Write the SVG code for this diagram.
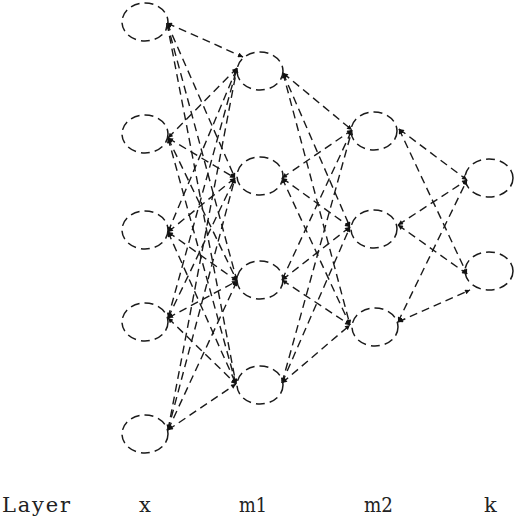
<svg xmlns="http://www.w3.org/2000/svg" width="520" height="518" viewBox="0 0 520 518">
<style>
.n{fill:none;stroke:#1a1a1a;stroke-width:1.5;stroke-dasharray:9 5}
.e{fill:none;stroke:#1a1a1a;stroke-width:1.4;stroke-dasharray:8 5;marker-start:url(#ah);marker-end:url(#ah)}
.t{font-family:"DejaVu Serif","Liberation Serif",serif;font-size:21px;fill:#222}
</style>
<defs>
<marker id="ah" viewBox="0 0 10 10" refX="10" refY="5" markerWidth="6" markerHeight="5" markerUnits="userSpaceOnUse" orient="auto-start-reverse">
<path d="M0,0 L10,5 L0,10 z" fill="#111"/>
</marker>
</defs>
<rect width="520" height="518" fill="#fff"/>
<g id="connectors">
<line class="e" x1="167" y1="23" x2="243" y2="57"/>
<line class="e" x1="167" y1="23" x2="235" y2="178"/>
<line class="e" x1="167" y1="23" x2="237" y2="281"/>
<line class="e" x1="167" y1="23" x2="236" y2="384"/>
<line class="e" x1="168" y1="138" x2="237" y2="68"/>
<line class="e" x1="168" y1="138" x2="235" y2="178"/>
<line class="e" x1="168" y1="138" x2="237" y2="281"/>
<line class="e" x1="168" y1="138" x2="236" y2="384"/>
<line class="e" x1="168" y1="232" x2="237" y2="68"/>
<line class="e" x1="168" y1="232" x2="235" y2="178"/>
<line class="e" x1="168" y1="232" x2="237" y2="281"/>
<line class="e" x1="168" y1="232" x2="236" y2="384"/>
<line class="e" x1="168" y1="318" x2="237" y2="68"/>
<line class="e" x1="168" y1="318" x2="235" y2="178"/>
<line class="e" x1="168" y1="318" x2="237" y2="281"/>
<line class="e" x1="168" y1="318" x2="236" y2="384"/>
<line class="e" x1="168" y1="430" x2="237" y2="68"/>
<line class="e" x1="168" y1="430" x2="235" y2="178"/>
<line class="e" x1="168" y1="430" x2="237" y2="281"/>
<line class="e" x1="168" y1="430" x2="236" y2="384"/>
<line class="e" x1="283" y1="73" x2="352" y2="130"/>
<line class="e" x1="283" y1="73" x2="350" y2="227"/>
<line class="e" x1="283" y1="73" x2="350" y2="325"/>
<line class="e" x1="282" y1="178" x2="352" y2="130"/>
<line class="e" x1="282" y1="178" x2="350" y2="227"/>
<line class="e" x1="282" y1="178" x2="350" y2="325"/>
<line class="e" x1="282" y1="280" x2="352" y2="130"/>
<line class="e" x1="282" y1="280" x2="350" y2="227"/>
<line class="e" x1="282" y1="280" x2="350" y2="325"/>
<line class="e" x1="282" y1="383" x2="352" y2="130"/>
<line class="e" x1="282" y1="383" x2="350" y2="227"/>
<line class="e" x1="282" y1="383" x2="350" y2="325"/>
<line class="e" x1="399" y1="129" x2="467" y2="180"/>
<line class="e" x1="399" y1="129" x2="467" y2="274"/>
<line class="e" x1="398" y1="225" x2="467" y2="180"/>
<line class="e" x1="398" y1="225" x2="467" y2="274"/>
<line class="e" x1="398" y1="322" x2="467" y2="180"/>
<line class="e" x1="398" y1="322" x2="470" y2="290"/>
</g>
<g id="x1"><ellipse class="n" cx="145" cy="22" rx="23" ry="19"/></g>
<g id="x2"><ellipse class="n" cx="145" cy="134" rx="23" ry="19"/></g>
<g id="x3"><ellipse class="n" cx="145" cy="230" rx="23" ry="19"/></g>
<g id="x4"><ellipse class="n" cx="145" cy="322" rx="23" ry="19"/></g>
<g id="x5"><ellipse class="n" cx="145" cy="434" rx="23" ry="19"/></g>
<g id="m1_1"><ellipse class="n" cx="260" cy="71" rx="23" ry="19"/></g>
<g id="m1_2"><ellipse class="n" cx="260" cy="176" rx="23" ry="19"/></g>
<g id="m1_3"><ellipse class="n" cx="260" cy="280" rx="23" ry="19"/></g>
<g id="m1_4"><ellipse class="n" cx="260" cy="385" rx="23" ry="19"/></g>
<g id="m2_1"><ellipse class="n" cx="374" cy="131" rx="23" ry="19"/></g>
<g id="m2_2"><ellipse class="n" cx="374" cy="229" rx="23" ry="19"/></g>
<g id="m2_3"><ellipse class="n" cx="375" cy="327" rx="23" ry="19"/></g>
<g id="k1"><ellipse class="n" cx="489" cy="178" rx="24" ry="19"/></g>
<g id="k2"><ellipse class="n" cx="489" cy="271" rx="24" ry="19"/></g>
<g id="labels">
<text class="t" x="2" y="512" textLength="68" lengthAdjust="spacing">Layer</text>
<text class="t" x="139" y="512">x</text>
<text class="t" x="239" y="512" textLength="28" lengthAdjust="spacingAndGlyphs">m1</text>
<text class="t" x="364" y="512" textLength="29" lengthAdjust="spacingAndGlyphs">m2</text>
<text class="t" x="484" y="512">k</text>
</g>
</svg>
